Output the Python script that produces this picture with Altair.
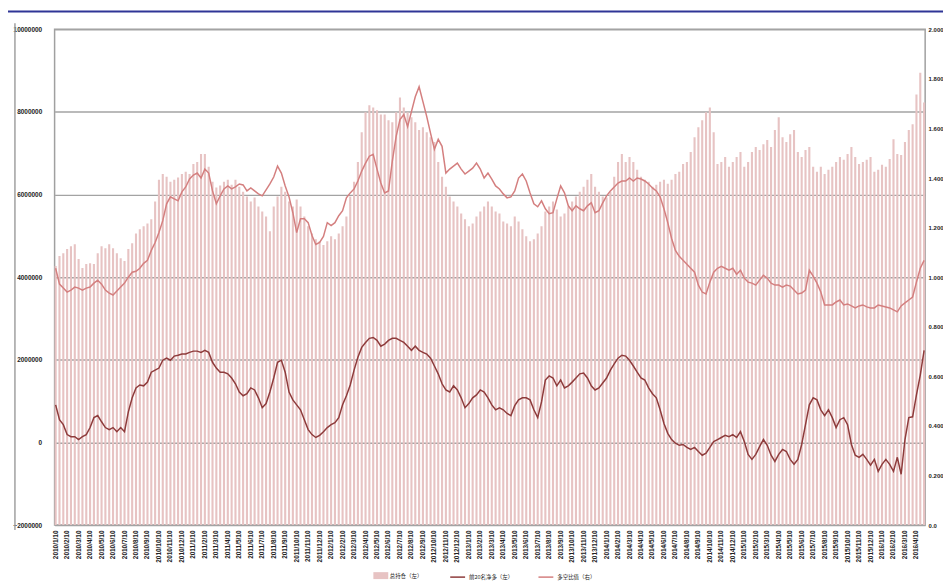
import altair as alt
import pandas as pd

# ---- categories: three observations per month (10th, 20th, month end) ----
dates = []
for year in range(2010, 2017):
    for month in range(1, 13):
        if year == 2016 and month > 4:
            break
        month_end = pd.Timestamp(year=year, month=month, day=1).days_in_month
        for day in (10, 20, month_end):
            dates.append(f"{year}/{month}/{day}")
label_dates = dates[::3]

SERIES_BAR = "总持仓（左）"
SERIES_NET = "前20名净多（左）"
SERIES_RATIO = "多空比值（右）"

# total open interest, millions (left axis)
total_oi = [
    4.27, 4.51, 4.58, 4.68, 4.75, 4.80, 4.44, 4.22, 4.32, 4.34,
    4.32, 4.58, 4.75, 4.70, 4.80, 4.70, 4.58, 4.46, 4.39, 4.68,
    4.82, 5.06, 5.16, 5.23, 5.30, 5.40, 5.83, 6.36, 6.50, 6.43,
    6.31, 6.36, 6.41, 6.50, 6.55, 6.50, 6.74, 6.79, 6.98, 6.98,
    6.67, 6.31, 6.17, 6.22, 6.31, 6.36, 6.24, 6.36, 6.19, 6.07,
    5.95, 5.83, 5.93, 5.71, 5.59, 5.47, 5.11, 5.71, 5.95, 6.19,
    6.07, 5.83, 5.71, 5.88, 5.71, 5.47, 5.23, 5.06, 4.92, 4.87,
    4.78, 4.87, 4.99, 4.92, 5.06, 5.23, 5.47, 5.95, 6.31, 6.79,
    7.51, 7.99, 8.16, 8.11, 8.04, 7.94, 7.94, 7.80, 7.75, 7.99,
    8.35, 8.11, 7.99, 7.87, 7.75, 7.56, 7.63, 7.51, 7.39, 7.27,
    6.79, 6.43, 6.19, 5.95, 5.83, 5.71, 5.54, 5.40, 5.23, 5.30,
    5.47, 5.59, 5.71, 5.83, 5.71, 5.59, 5.54, 5.35, 5.30, 5.23,
    5.47, 5.35, 5.16, 4.99, 4.87, 4.92, 5.06, 5.23, 5.59, 5.71,
    5.83, 5.64, 5.47, 5.54, 5.71, 5.83, 5.95, 6.07, 6.19, 6.36,
    6.50, 6.19, 6.07, 5.95, 5.93, 6.07, 6.43, 6.79, 6.98, 6.79,
    6.91, 6.79, 6.60, 6.43, 6.36, 6.31, 6.19, 6.24, 6.31, 6.36,
    6.26, 6.36, 6.50, 6.55, 6.74, 6.79, 7.03, 7.39, 7.63, 7.80,
    7.99, 8.11, 7.51, 6.74, 6.79, 6.91, 6.67, 6.79, 6.91, 7.03,
    6.67, 6.79, 7.03, 7.15, 7.08, 7.22, 7.32, 7.15, 7.56, 7.87,
    7.39, 7.27, 7.46, 7.56, 7.03, 6.91, 7.08, 7.15, 6.67, 6.55,
    6.67, 6.50, 6.60, 6.67, 6.79, 6.91, 6.84, 6.98, 7.15, 6.91,
    6.74, 6.79, 6.84, 6.91, 6.55, 6.60, 6.72, 6.67, 6.86, 7.34,
    6.98, 6.96, 7.27, 7.56, 7.70, 8.42, 8.95, 8.23,
]

# net long position, millions (left axis)
net_long = [
    0.91, 0.55, 0.43, 0.19, 0.14, 0.14, 0.07, 0.14, 0.19, 0.36,
    0.60, 0.65, 0.50, 0.36, 0.31, 0.36, 0.26, 0.36, 0.26, 0.74,
    1.08, 1.32, 1.39, 1.37, 1.46, 1.70, 1.75, 1.80, 1.99, 2.04,
    1.99, 2.09, 2.11, 2.14, 2.14, 2.18, 2.21, 2.21, 2.18, 2.23,
    2.18, 1.94, 1.80, 1.70, 1.70, 1.66, 1.56, 1.42, 1.22, 1.13,
    1.18, 1.32, 1.27, 1.08, 0.84, 0.94, 1.22, 1.56, 1.94, 1.99,
    1.70, 1.22, 1.03, 0.91, 0.79, 0.55, 0.31, 0.19, 0.12, 0.17,
    0.26, 0.36, 0.43, 0.48, 0.60, 0.91, 1.13, 1.39, 1.75, 2.06,
    2.30, 2.42, 2.52, 2.54, 2.47, 2.33, 2.38, 2.47, 2.52, 2.52,
    2.47, 2.42, 2.33, 2.23, 2.33, 2.23, 2.18, 2.14, 2.04, 1.85,
    1.66, 1.42, 1.27, 1.22, 1.37, 1.27, 1.08, 0.84, 0.94, 1.08,
    1.15, 1.27, 1.22, 1.08, 0.91, 0.79, 0.84, 0.79, 0.70, 0.65,
    0.89, 1.03, 1.08, 1.08, 1.03, 0.79, 0.60, 0.98, 1.51, 1.61,
    1.56, 1.37, 1.51, 1.32, 1.37, 1.46, 1.56, 1.66, 1.68, 1.56,
    1.37, 1.27, 1.32, 1.44, 1.56, 1.75, 1.90, 2.04, 2.11, 2.09,
    1.99, 1.85, 1.70, 1.56, 1.51, 1.32, 1.18, 1.08, 0.79, 0.46,
    0.22, 0.07, -0.02, -0.07, -0.05, -0.12, -0.17, -0.12, -0.22, -0.31,
    -0.26, -0.12, 0.02, 0.07, 0.12, 0.17, 0.14, 0.19, 0.12, 0.26,
    0.02, -0.29, -0.41, -0.29, -0.10, 0.07, -0.07, -0.31, -0.46, -0.29,
    -0.17, -0.22, -0.41, -0.53, -0.41, -0.05, 0.43, 0.91, 1.08, 1.03,
    0.79, 0.65, 0.79, 0.60, 0.36, 0.55, 0.60, 0.43, -0.05, -0.31,
    -0.36, -0.29, -0.41, -0.55, -0.41, -0.70, -0.53, -0.41, -0.53, -0.70,
    -0.36, -0.77, 0.07, 0.60, 0.62, 1.15, 1.63, 2.23,
]

# long/short ratio (right axis)
ls_ratio = [
    1.036, 0.972, 0.956, 0.940, 0.948, 0.960, 0.956, 0.948, 0.956, 0.960,
    0.976, 0.988, 0.972, 0.948, 0.936, 0.928, 0.944, 0.960, 0.976, 1.000,
    1.020, 1.024, 1.036, 1.056, 1.068, 1.108, 1.140, 1.180, 1.228, 1.296,
    1.324, 1.316, 1.308, 1.344, 1.364, 1.396, 1.412, 1.420, 1.400, 1.436,
    1.420, 1.348, 1.296, 1.328, 1.356, 1.368, 1.356, 1.364, 1.376, 1.372,
    1.348, 1.360, 1.348, 1.336, 1.328, 1.352, 1.376, 1.404, 1.448, 1.420,
    1.368, 1.324, 1.260, 1.180, 1.236, 1.236, 1.220, 1.168, 1.132, 1.140,
    1.164, 1.220, 1.208, 1.220, 1.248, 1.268, 1.320, 1.340, 1.356, 1.388,
    1.428, 1.460, 1.488, 1.496, 1.436, 1.380, 1.340, 1.348, 1.468, 1.568,
    1.636, 1.656, 1.608, 1.668, 1.728, 1.768, 1.708, 1.648, 1.580, 1.516,
    1.556, 1.528, 1.420, 1.436, 1.448, 1.460, 1.436, 1.416, 1.428, 1.440,
    1.460, 1.436, 1.400, 1.420, 1.396, 1.368, 1.356, 1.336, 1.320, 1.324,
    1.348, 1.400, 1.416, 1.388, 1.340, 1.296, 1.284, 1.308, 1.276, 1.256,
    1.260, 1.316, 1.368, 1.340, 1.288, 1.268, 1.288, 1.276, 1.268, 1.288,
    1.300, 1.260, 1.268, 1.300, 1.328, 1.348, 1.364, 1.380, 1.388, 1.388,
    1.400, 1.388, 1.400, 1.396, 1.388, 1.376, 1.360, 1.348, 1.324, 1.276,
    1.220, 1.156, 1.108, 1.084, 1.068, 1.052, 1.036, 1.020, 0.968, 0.940,
    0.932, 0.980, 1.020, 1.036, 1.044, 1.036, 1.028, 1.036, 1.012, 1.028,
    0.996, 0.980, 0.976, 0.968, 0.988, 1.008, 0.996, 0.976, 0.968, 0.968,
    0.960, 0.968, 0.964, 0.948, 0.932, 0.936, 0.948, 1.028, 1.004, 0.976,
    0.940, 0.888, 0.888, 0.888, 0.900, 0.908, 0.888, 0.892, 0.884, 0.876,
    0.884, 0.888, 0.880, 0.876, 0.876, 0.888, 0.884, 0.880, 0.876, 0.868,
    0.860, 0.884, 0.896, 0.908, 0.920, 0.980, 1.036, 1.068,
]

left_ticks = [-2, 0, 2, 4, 6, 8, 10]
right_ticks = [0.0, 0.2, 0.4, 0.6, 0.8, 1.0, 1.2, 1.4, 1.6, 1.8, 2.0]

BAR_COLOR = "#e7c3c3"
NET_COLOR = "#8e3b3b"
RATIO_COLOR = "#d47f7f"
AX_FONT = "Liberation Sans"
CJK_FONT = "Noto Sans CJK SC"

df = pd.DataFrame({"date": dates, "oi": total_oi, "net": net_long, "ratio": ls_ratio})
df["s_bar"] = SERIES_BAR
df["s_net"] = SERIES_NET
df["s_ratio"] = SERIES_RATIO
one = pd.DataFrame({"k": [0]})

base = alt.Chart(df)

x_enc = alt.X(
    "date:N", sort=None, title=None,
    scale=alt.Scale(paddingInner=0.45, paddingOuter=0.0),
    axis=alt.Axis(values=label_dates, labelAngle=270, labelAlign="right",
                  labelBaseline="middle", labelPadding=5, ticks=False, domain=False,
                  grid=False, labelFont=AX_FONT, labelFontSize=6.5,
                  labelFontWeight="bold", labelColor="#222222", labelOverlap=False),
)

stroke_scale = alt.Scale(domain=[SERIES_NET, SERIES_RATIO], range=[NET_COLOR, RATIO_COLOR])
stroke_legend = alt.Legend(orient="none", legendX=398, legendY=544, direction="horizontal",
                           title=None, labelFont=CJK_FONT, labelFontSize=5.5,
                           labelColor="#222222", symbolType="stroke", symbolSize=225,
                           symbolStrokeWidth=1.5, labelOffset=3, columnPadding=22, padding=0)

bars = base.mark_bar().encode(
    x=x_enc,
    y=alt.Y("oi:Q", title=None,
            scale=alt.Scale(domain=[-2, 10], nice=False, zero=False),
            axis=alt.Axis(values=left_ticks,
                          labelExpr="format(datum.value * 1000000, 'd')",
                          grid=True, gridColor="#a3a3a3", gridWidth=1.5,
                          domain=False, ticks=False, labelPadding=13,
                          labelFont=AX_FONT, labelFontSize=6.5,
                          labelFontWeight="bold", labelColor="#222222")),
    y2=alt.Y2Datum(-2),
    color=alt.Color(
        "s_bar:N",
        scale=alt.Scale(domain=[SERIES_BAR], range=[BAR_COLOR]),
        legend=alt.Legend(orient="none", legendX=324, legendY=546, title=None,
                          labelFont=CJK_FONT, labelFontSize=5.5, labelColor="#222222",
                          symbolType="M-1.5,-0.7L1.5,-0.7L1.5,0.7L-1.5,0.7Z",
                          symbolSize=100, symbolStrokeWidth=0, labelOffset=4, padding=0),
    ),
)

net_line = base.mark_line(strokeWidth=1.5).encode(
    x=alt.X("date:N", sort=None, bandPosition=0.5),
    y=alt.Y("net:Q", scale=alt.Scale(domain=[-2, 10], nice=False, zero=False), axis=None),
    stroke=alt.Stroke("s_net:N", scale=stroke_scale, legend=stroke_legend),
)

ratio_line = base.mark_line(strokeWidth=1.5).encode(
    x=alt.X("date:N", sort=None, bandPosition=0.5),
    y=alt.Y("ratio:Q", title=None,
            scale=alt.Scale(domain=[0, 2], nice=False, zero=False),
            axis=alt.Axis(orient="right", values=right_ticks,
                          labelExpr="datum.value == 0 ? '0.0' : format(datum.value, '.3f')",
                          grid=False, domain=False, ticks=False, labelPadding=3,
                          labelFont=AX_FONT, labelFontSize=6,
                          labelFontWeight="bold", labelColor="#222222")),
    stroke=alt.Stroke("s_ratio:N", scale=stroke_scale, legend=stroke_legend),
)

left_line = alt.Chart(one).mark_rule(color="#a0a0a0", strokeWidth=1.5).encode(
    x=alt.value(-40), y=alt.value(-6), y2=alt.value(505)
)
top_line = alt.Chart(one).mark_rule(color="#2f3596", strokeWidth=2).encode(
    x=alt.value(-47), x2=alt.value(896), y=alt.value(-18)
)

chart = alt.layer(bars, net_line, ratio_line, left_line, top_line).resolve_scale(
    y="independent"
).properties(
    width=878, height=500,
    padding={"left": 47, "top": 19, "right": 18, "bottom": 61},
    autosize=alt.AutoSizeParams(type="none"),
).configure_view(stroke="#a0a0a0", strokeWidth=1.5)

chart.save("out.html", embed_options={"renderer": "svg", "actions": False})
